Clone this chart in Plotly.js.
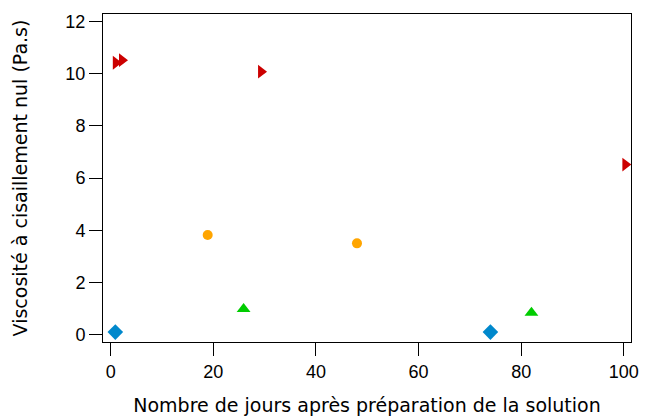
<!DOCTYPE html>
<html><head><meta charset="utf-8">
<script src="https://cdn.plot.ly/plotly-3.0.1.min.js"></script>
<style>html,body{margin:0;padding:0;background:#fff}</style>
</head><body><div id="c" style="width:645px;height:418px"></div>
<script>
const redX = [1, 2.2, 29.3, 100.3];
const redY = [10.42, 10.52, 10.08, 6.52];
const orangeX = [18.9, 48];
const orangeY = [3.82, 3.5];
const greenX = [25.9, 82];
const greenY = [0.98, 0.84];
const blueX = [0.9, 74];
const blueY = [0.1, 0.1];

const traces = [
  {x: redX, y: redY, type:'scatter', mode:'markers', marker:{symbol:'triangle-right', size:12, color:'#CC0000'}},
  {x: orangeX, y: orangeY, type:'scatter', mode:'markers', marker:{symbol:'circle', size:10, color:'#FFA500'}},
  {x: greenX, y: greenY, type:'scatter', mode:'markers', marker:{symbol:'triangle-up', size:12, color:'#00CC00'}},
  {x: blueX, y: blueY, type:'scatter', mode:'markers', marker:{symbol:'diamond', size:12, color:'#0088CC'}}
];
const tickFam = 'Liberation Sans, Arial, sans-serif';
const titleFam = 'DejaVu Sans, sans-serif';
const layout = {
  width:645, height:418,
  margin:{l:103, r:14, t:14, b:76},
  showlegend:false,
  paper_bgcolor:'#fff', plot_bgcolor:'#fff',
  font:{family:tickFam, size:18, color:'#000'},
  xaxis:{range:[-1.5,101.4], tickvals:[0,20,40,60,80,100], ticks:'outside', ticklen:13, tickcolor:'#000', tickwidth:1,
    showline:true, linecolor:'#000', linewidth:1, mirror:true, showgrid:false, zeroline:false,
    tickfont:{family:tickFam, size:18, color:'#000'},
    title:{text:'Nombre de jours après préparation de la solution', font:{family:titleFam,size:19,color:'#000'}, standoff:18}},
  yaxis:{range:[-0.28,12.29], tickvals:[0,2,4,6,8,10,12], ticks:'outside', ticklen:13, tickcolor:'#000', tickwidth:1,
    showline:true, linecolor:'#000', linewidth:1, mirror:true, showgrid:false, zeroline:false,
    tickfont:{family:tickFam, size:18, color:'#000'},
    title:{text:'Viscosité à cisaillement nul (Pa.s)', font:{family:titleFam,size:19,color:'#000'}, standoff:32}}
};
Plotly.newPlot('c', traces, layout, {displayModeBar:false, staticPlot:true});
</script></body></html>
